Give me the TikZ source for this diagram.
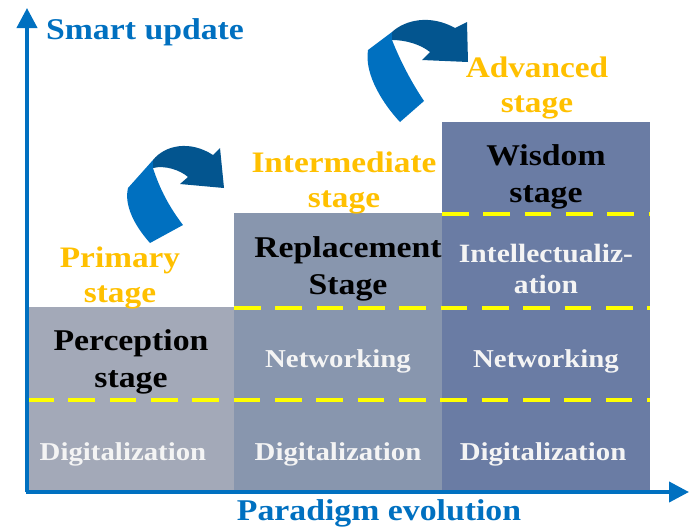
\documentclass[tikz,border=0pt]{standalone}
\usepackage{fontspec}
\setmainfont{Liberation Serif}[FakeStretch=1.12]
\usetikzlibrary{arrows.meta}
\definecolor{axisblue}{HTML}{0070C0}
\definecolor{darkblue}{HTML}{03558F}
\definecolor{colA}{HTML}{A3A9B8}
\definecolor{colB}{HTML}{8896AE}
\definecolor{colC}{HTML}{6A7CA4}
\definecolor{gold}{HTML}{FFC000}
\definecolor{dashyellow}{HTML}{FFFF00}
\definecolor{offwhite}{HTML}{F4F4F4}
\begin{document}
\begin{tikzpicture}[x=0.75pt,y=-0.75pt,
  axisline/.style={draw=axisblue, line width=3pt, -{Triangle[length=15pt,width=15pt]}},
  levelline/.style={draw=dashyellow, line width=2.3pt, dash pattern=on 20pt off 11pt},
  bluetitle/.style={font=\bfseries\fontsize{22.6}{26}\selectfont, text=axisblue, inner sep=0pt},
  goldtitle/.style={font=\bfseries\fontsize{22.3}{26}\selectfont, text=gold, align=center, inner sep=0pt},
  stagetext/.style={font=\bfseries\fontsize{22.6}{27.5}\selectfont, text=black, align=center, inner sep=0pt},
  leveltext/.style={font=\bfseries\fontsize{19.3}{23.5}\selectfont, text=offwhite, align=center, inner sep=0pt}
]
\useasboundingbox (0,0) rectangle (689,526);

% columns
\fill[colA] (27,307) rectangle (234,490);
\fill[colB] (234,213) rectangle (442,490);
\fill[colC] (442,122) rectangle (650,490);

% dashed level lines
\coordinate (d1a) at (27,400);  \coordinate (d1b) at (650,400);
\coordinate (d2a) at (234,308); \coordinate (d2b) at (650,308);
\coordinate (d3a) at (442,214); \coordinate (d3b) at (650,214);
\draw[levelline] (d1a) -- (d1b);
\draw[levelline] (d2a) -- (d2b);
\draw[levelline] (d3a) -- (d3b);

% axes
\coordinate (origin) at (27,492);
\coordinate (xorigin) at (25.5,492);
\coordinate (ytop) at (27,8);
\coordinate (xend) at (689,492);
\draw[axisline] (origin) -- (ytop);
\draw[axisline] (xorigin) -- (xend);

% curved arrow 1
\fill[axisblue] (128,188) -- (153,160) -- (153,168) .. controls (160,190) and (170,208) .. (183,225)
  -- (150,243) .. controls (134,225) and (124,205) .. (128,188) -- cycle;
\fill[darkblue] (153,160) .. controls (165,145) and (190,140) .. (213,155) -- (220,148) -- (224,188)
  -- (180,184) -- (188,177) .. controls (180,170) and (165,165) .. (153,168) -- cycle;

% curved arrow 2
\fill[axisblue] (368,50) -- (392,32) -- (392,40) .. controls (400,60) and (410,80) .. (424,101)
  -- (400,122) .. controls (384,105) and (364,75) .. (368,50) -- cycle;
\fill[darkblue] (392,32) .. controls (405,20) and (430,14) .. (455,28) -- (467,22) -- (468,62)
  -- (422,60) -- (430,52) .. controls (420,44) and (405,40) .. (392,40) -- cycle;

% axis titles
\node[bluetitle] (smart) at (145,32) {Smart update};
\node[bluetitle] (paradigm) at (379,513) {Paradigm evolution};

% stage titles
\node[goldtitle] (primary) at (120,278) {Primary\\stage};
\node[goldtitle] (intermediate) at (344,183) {Intermediate\\stage};
\node[goldtitle] (advanced) at (537,88) {Advanced\\stage};

% column 1
\node[stagetext] (perception) at (131,362) {Perception\\stage};
\node[leveltext] (dig1) at (123,454) {Digitalization};

% column 2
\node[stagetext] (replacement) at (348,269) {Replacement\\Stage};
\node[leveltext] (net2) at (338,361) {Networking};
\node[leveltext] (dig2) at (338,454) {Digitalization};

% column 3
\node[stagetext] (wisdom) at (546,177) {Wisdom\\stage};
\node[leveltext, font=\bfseries\fontsize{19.8}{23.5}\selectfont] (intel) at (546,269) {Intellectualiz-\\ation};
\node[leveltext] (net3) at (546,361) {Networking};
\node[leveltext] (dig3) at (543,454) {Digitalization};
\end{tikzpicture}
\end{document}
